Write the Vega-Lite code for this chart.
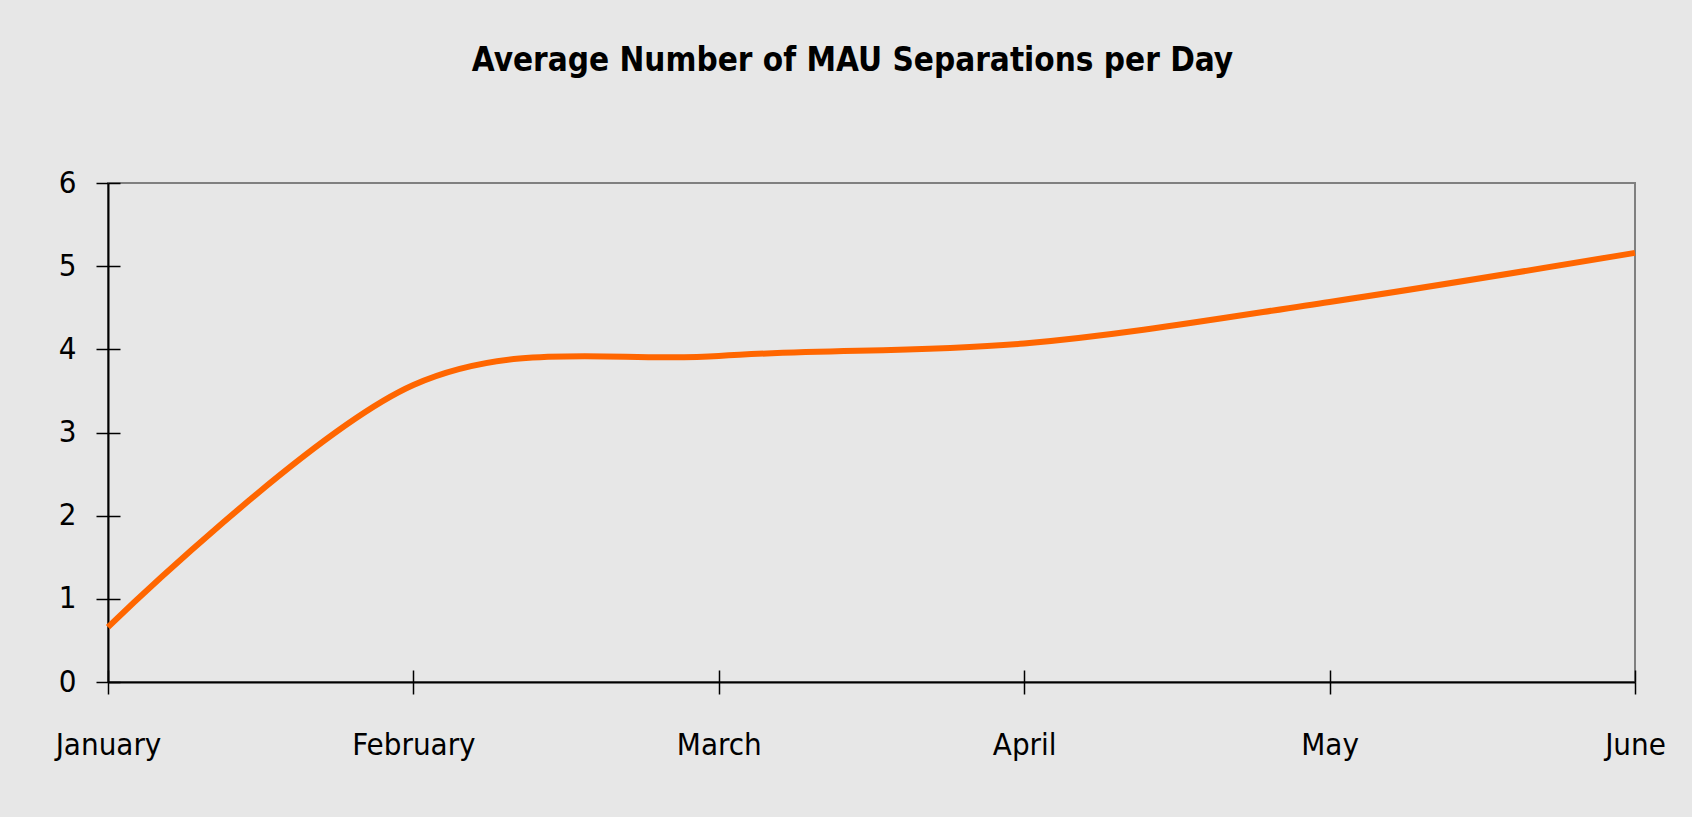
{
  "$schema": "https://vega.github.io/schema/vega-lite/v6.json",
  "width": 1527,
  "height": 499,
  "autosize": {"type": "none"},
  "padding": {"left": 108, "top": 183, "right": 57, "bottom": 135},
  "background": "#e7e7e7",
  "title": {
    "text": "Average Number of MAU Separations per Day",
    "font": "DejaVu Sans Condensed, sans-serif",
    "fontSize": 33,
    "fontWeight": "bold",
    "color": "#000000",
    "anchor": "middle",
    "dx": -19,
    "offset": 89
  },
  "data": {
    "values": [
      {"month": "January", "value": 0.66},
      {"month": "February", "value": 3.57},
      {"month": "March", "value": 3.92},
      {"month": "April", "value": 4.07},
      {"month": "May", "value": 4.57},
      {"month": "June", "value": 5.16}
    ]
  },
  "config": {
    "view": {"stroke": "#808080", "strokeWidth": 2, "fill": null},
    "axis": {
      "labelFont": "DejaVu Sans Condensed, sans-serif",
      "labelFontSize": 31,
      "labelColor": "#000000",
      "domainColor": "#000000",
      "domainWidth": 2,
      "tickColor": "#000000",
      "tickWidth": 1.5,
      "grid": false,
      "title": null
    }
  },
  "resolve": {"axis": {"x": "independent", "y": "independent"}},
  "layer": [
    {
      "mark": {"type": "line", "color": "#FF6600", "strokeWidth": 6, "interpolate": "cardinal", "tension": 0},
      "encoding": {
        "x": {
          "field": "month",
          "type": "ordinal",
          "sort": null,
          "scale": {"type": "point", "padding": 0},
          "axis": {"orient": "bottom", "labelAngle": 0, "tickSize": 12, "labelPadding": 36, "domain": true}
        },
        "y": {
          "field": "value",
          "type": "quantitative",
          "scale": {"domain": [0, 6], "nice": false},
          "axis": {"orient": "left", "values": [0, 1, 2, 3, 4, 5, 6], "tickSize": 12, "labelPadding": 20, "domain": true}
        }
      }
    },
    {
      "mark": {"type": "line", "opacity": 0},
      "encoding": {
        "x": {
          "field": "month",
          "type": "ordinal",
          "sort": null,
          "scale": {"type": "point", "padding": 0},
          "axis": {"orient": "bottom", "labels": false, "tickSize": -12, "domain": false}
        },
        "y": {
          "field": "value",
          "type": "quantitative",
          "scale": {"domain": [0, 6], "nice": false},
          "axis": {"orient": "left", "values": [0, 1, 2, 3, 4, 5, 6], "labels": false, "tickSize": -12, "domain": false}
        }
      }
    }
  ]
}
